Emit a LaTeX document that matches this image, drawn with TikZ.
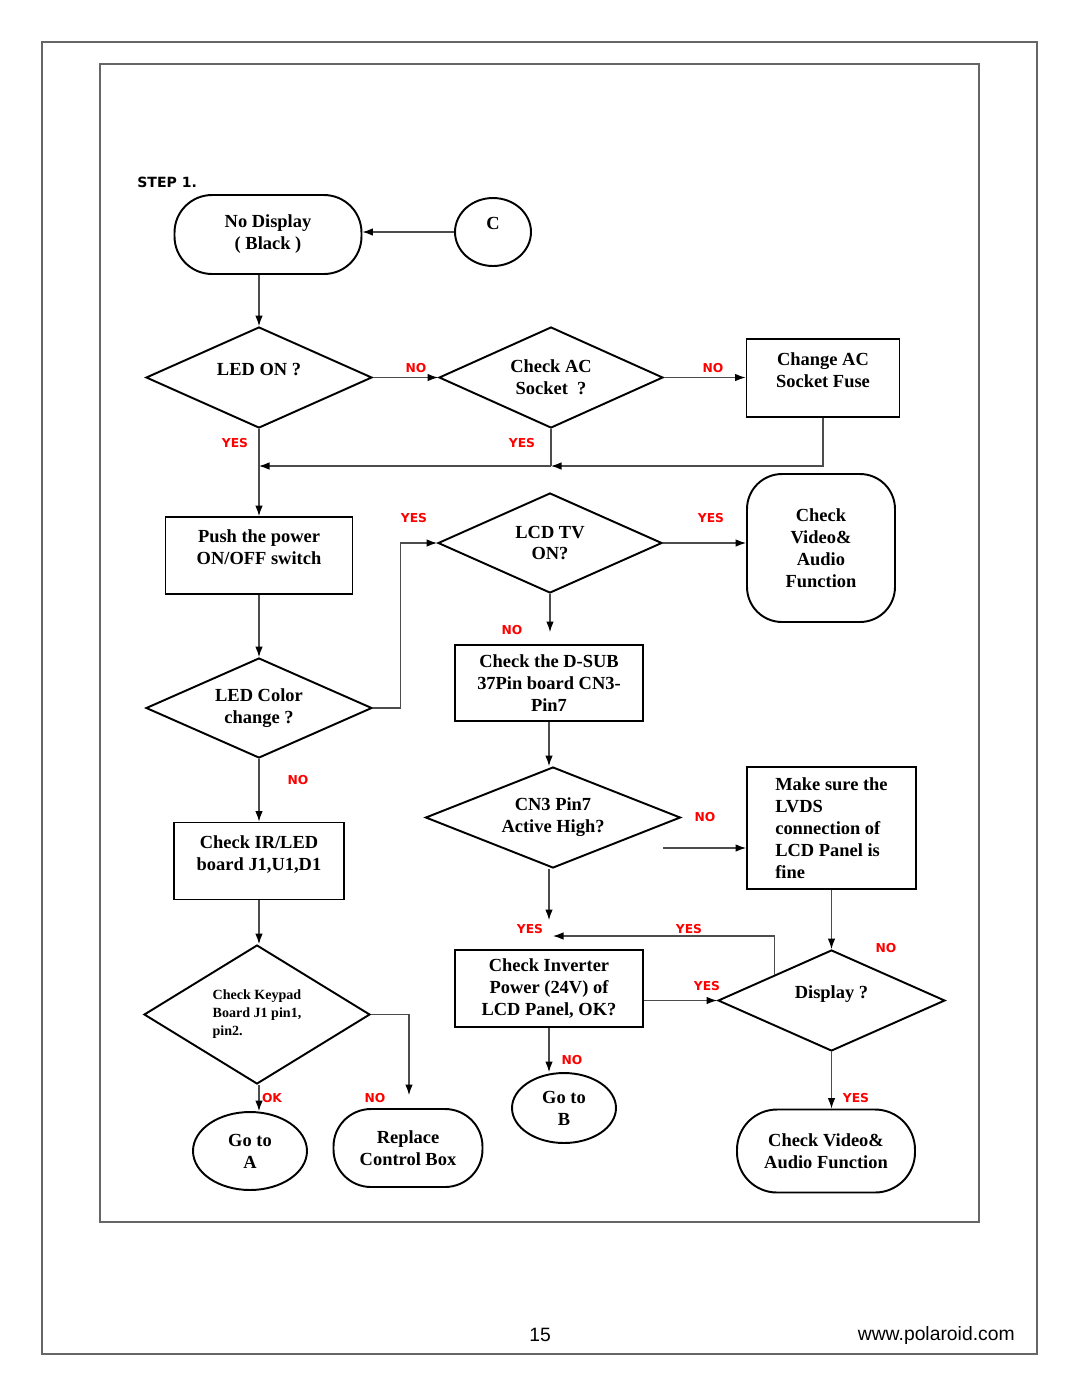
\documentclass[tikz,border=0pt]{standalone}
\usepackage{fontspec}
\setmainfont{Liberation Serif}
\newfontfamily\labelfont{DejaVu Sans}
\newfontfamily\footfont{Liberation Sans}
\usetikzlibrary{shapes.geometric,arrows.meta,calc}
\colorlet{Answer}{red}
\colorlet{Frame}{black!60}
\colorlet{Wire}{black!70}
\newcommand\ans[1]{{\labelfont\bfseries\fontsize{7}{8}\selectfont\color{Answer}#1}}
\newcommand\padline{\\[-3pt]\mbox{}}

\begin{document}
\begin{tikzpicture}[
  x={(0.02cm,0cm)},
  y={(0cm,-0.02cm)},
  every node/.style={font=\bfseries\fontsize{10.5}{12.5}\selectfont,
    align=center, inner sep=0pt},
  box/.style={draw, rectangle, line width=1.1pt},
  stadium/.style={draw, rectangle, rounded corners=0.75cm, line width=1.1pt},
  decision/.style={draw, diamond, aspect=2.2, line width=1.1pt},
  oval/.style={draw, ellipse, line width=1.1pt},
  wire/.style={draw=Wire, line width=0.6pt},
  flow/.style={wire, -{Latex[length=2.1mm,width=1.5mm,black]}}
  ]
\useasboundingbox (0,0) rectangle (1080,1397);
\draw[Frame, line width=0.7pt] (42,42) rectangle (1037,1354);
\draw[Frame, line width=0.6pt] (100,64) rectangle (979,1222);

\path
  (137,182) node[anchor=west, font=\labelfont\bfseries\fontsize{8}{9}\selectfont]
    (step) {STEP 1.}
  (268,234.5) node[stadium, minimum width=3.74cm, minimum height=1.58cm]
    (nodisp) {No Display\\( Black )}
  (493,232) node[oval, minimum width=1.52cm, minimum height=1.36cm]
    (c) {C\padline}
  (259,377.5) node[decision, minimum width=4.52cm, minimum height=2.02cm]
    (ledon) {LED ON ?\padline}
  (551,377.5) node[decision, minimum width=4.48cm, minimum height=2.02cm]
    (chkac) {Check AC\\Socket \ ?}
  (823,378) node[box, minimum width=3.06cm, minimum height=1.56cm]
    (chg) {Change AC\\Socket Fuse\padline}
  (259,555.5) node[box, minimum width=3.74cm, minimum height=1.54cm]
    (push) {Push the power\\ON/OFF switch\padline}
  (550,543) node[decision, minimum width=4.48cm, minimum height=2cm]
    (lcd) {LCD TV\\ON?}
  (821,548) node[stadium, rounded corners=0.7cm, minimum width=2.96cm, minimum height=2.96cm]
    (cva) {Check\\Video\&\\Audio\\Function}
  (259,708) node[decision, minimum width=4.52cm, minimum height=2cm]
    (ledc) {LED Color\\change ?}
  (549,683) node[box, minimum width=3.76cm, minimum height=1.52cm]
    (dsub) {Check the D-SUB\\37Pin board CN3-\\Pin7}
  (553,817.5) node[decision, minimum width=5.1cm, minimum height=2.02cm]
    (cn3) {CN3 Pin7\\Active High?}
  (831.5,828) node[box, minimum width=3.38cm, minimum height=2.44cm, align=left]
    (lvds) {Make sure the\\LVDS\\connection of\\LCD Panel is\\fine}
  (259,861) node[box, minimum width=3.4cm, minimum height=1.54cm]
    (ir) {Check IR/LED\\board J1,U1,D1\padline}
  (549,988.5) node[box, minimum width=3.76cm, minimum height=1.54cm]
    (inv) {Check Inverter\\Power (24V) of\\LCD Panel, OK?}
  (831.5,1000.5) node[decision, minimum width=4.54cm, minimum height=2.02cm]
    (disp) {Display ?\padline}
  (257,1014.5) node[decision, aspect=1.6, minimum width=4.52cm, minimum height=2.78cm,
    align=left, font=\bfseries\fontsize{8}{10.2}\selectfont]
    (kp) {Check Keypad\\Board J1 pin1,\\pin2.}
  (250,1151) node[oval, minimum width=2.28cm, minimum height=1.56cm]
    (goa) {Go to\\A}
  (408,1148) node[stadium, minimum width=2.98cm, minimum height=1.56cm]
    (rep) {Replace\\Control Box}
  (564,1108) node[oval, minimum width=2.08cm, minimum height=1.4cm]
    (gob) {Go to\\B}
  (826,1151) node[stadium, rounded corners=0.8cm, minimum width=3.56cm, minimum height=1.66cm]
    (cva2) {Check Video\&\\Audio Function}
  (540,1335) node[font=\footfont\fontsize{11}{13}\selectfont] (page) {15}
  (1015,1335) node[anchor=east, font=\footfont\fontsize{11}{13}\selectfont]
    (url) {www.polaroid.com}
  ;

% junctions and free ends
\coordinate (j1) at (259,466);
\coordinate (j2) at (551,466);
\coordinate (lcdend) at (550,632);
\coordinate (cn3end) at (549,920);
\coordinate (lvdsin) at (663,848);
\coordinate (yesend) at (553,936);
\coordinate (kpno) at (409,1095);
\coordinate (dispnw) at ($(disp.west)!0.5!(disp.north)$);

\draw[flow] (c.west) -- (c.west -| nodisp.east);
\draw[flow] (ledon.north |- nodisp.south) -- (ledon.north);
\draw[flow] (ledon.east) -- (chkac.west);
\draw[flow] (chkac.east) -- (chkac.east -| chg.west);
\draw[wire] (chkac.south) -- (j2);
\draw[flow] (chg.south) |- (j2);
\draw[flow] (j2) -- (j1);
\draw[flow] (ledon.south) -- (push.north);
\draw[flow] (push.south) -- (ledc.north);
\draw[flow] (ledc.east) -- ++(28,0) |- (lcd.west);
\draw[flow] (lcd.east) -- (lcd.east -| cva.west);
\draw[flow] (lcd.south) -- (lcdend);
\draw[flow] (dsub.south) -- (dsub.south |- cn3.north);
\draw[flow] (dsub.south |- cn3.south) -- (cn3end);
\draw[flow] (lvdsin) -- (lvdsin -| lvds.west);
\draw[flow] (lvds.south) -- (lvds.south |- disp.north);
\draw[flow] (dispnw) |- (yesend);
\draw[flow] (inv.east |- disp.west) -- (disp.west);
\draw[flow] (inv.south) -- (inv.south |- gob.north);
\draw[flow] (disp.south) -- (disp.south |- cva2.north);
\draw[flow] (ledc.south) -- (ir.north);
\draw[flow] (ir.south) -- (ir.south |- kp.north);
\draw[flow] (ir.south |- kp.south) -- (ir.south |- goa.north);
\draw[flow] (kp.east) -| (kpno);

% answers
\foreach \x/\y/\t [count=\i] in {
  416/368/NO, 713/368/NO, 235/443/YES, 522/443/YES,
  414/518/YES, 711/518/YES, 512/630/NO, 298/780/NO,
  705/817/NO, 530/929/YES, 689/929/YES, 886/948/NO,
  707/986/YES, 572/1060/NO, 856/1098/YES, 272/1098/OK,
  375/1098/NO}
  \node (ans\i) at (\x,\y) {\ans{\t}};
\end{tikzpicture}
\end{document}
